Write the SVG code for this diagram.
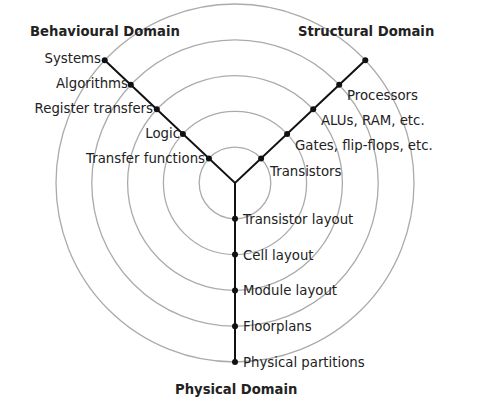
<svg xmlns="http://www.w3.org/2000/svg" width="489" height="417" viewBox="0 0 489 417">
<style>
.ring{fill:none;stroke:#ababab;stroke-width:1.3}
.axis{fill:none;stroke:#111;stroke-width:2}
.dot{fill:#111}
text{font-family:"DejaVu Sans","Liberation Sans",sans-serif;font-size:13.3px;fill:#222}
.title{font-weight:bold;font-size:13.2px}
.end{text-anchor:end}
</style>
<rect width="489" height="417" fill="#fff"/>
<g id="rings">
<circle class="ring" cx="235" cy="183" r="35.8"/>
<circle class="ring" cx="235" cy="183" r="71.6"/>
<circle class="ring" cx="235" cy="183" r="107.4"/>
<circle class="ring" cx="235" cy="183" r="143.2"/>
<circle class="ring" cx="235" cy="183" r="179"/>
</g>
<g id="connectors">
<polyline class="axis" points="104.7,60.2 235,183 365.3,60.2"/>
<line class="axis" x1="235" y1="183" x2="235" y2="362"/>
</g>
<g id="titles">
<text class="title" x="30" y="36">Behavioural Domain</text>
<text class="title" x="298" y="36">Structural Domain</text>
<text class="title" x="175" y="394">Physical Domain</text>
</g>
<g id="behavioural">
<g id="systems"><circle class="dot" cx="104.7" cy="60.2" r="3"/><text class="end" x="101" y="63">Systems</text></g>
<g id="algorithms"><circle class="dot" cx="130.8" cy="84.8" r="3"/><text class="end" x="128" y="88">Algorithms</text></g>
<g id="register-transfers"><circle class="dot" cx="156.8" cy="109.3" r="3"/><text class="end" x="153" y="113">Register transfers</text></g>
<g id="logic"><circle class="dot" cx="182.9" cy="133.9" r="3"/><text class="end" x="180" y="138">Logic</text></g>
<g id="transfer-functions"><circle class="dot" cx="208.9" cy="158.4" r="3"/><text class="end" x="205" y="163">Transfer functions</text></g>
</g>
<g id="structural">
<g id="structural-outer"><circle class="dot" cx="365.3" cy="60.2" r="3"/></g>
<g id="processors"><circle class="dot" cx="339.2" cy="84.8" r="3"/><text x="347" y="100">Processors</text></g>
<g id="alus"><circle class="dot" cx="313.2" cy="109.3" r="3"/><text x="321" y="125">ALUs, RAM, etc.</text></g>
<g id="gates"><circle class="dot" cx="287.1" cy="133.9" r="3"/><text x="295" y="150">Gates, flip-flops, etc.</text></g>
<g id="transistors"><circle class="dot" cx="261.1" cy="158.4" r="3"/><text x="270" y="176">Transistors</text></g>
</g>
<g id="physical">
<g id="transistor-layout"><circle class="dot" cx="235" cy="218.8" r="3"/><text x="243" y="223.8">Transistor layout</text></g>
<g id="cell-layout"><circle class="dot" cx="235" cy="254.6" r="3"/><text x="243" y="259.6">Cell layout</text></g>
<g id="module-layout"><circle class="dot" cx="235" cy="290.4" r="3"/><text x="243" y="295.4">Module layout</text></g>
<g id="floorplans"><circle class="dot" cx="235" cy="326.2" r="3"/><text x="243" y="331.2">Floorplans</text></g>
<g id="physical-partitions"><circle class="dot" cx="235" cy="362" r="3"/><text x="243" y="367">Physical partitions</text></g>
</g>
</svg>
